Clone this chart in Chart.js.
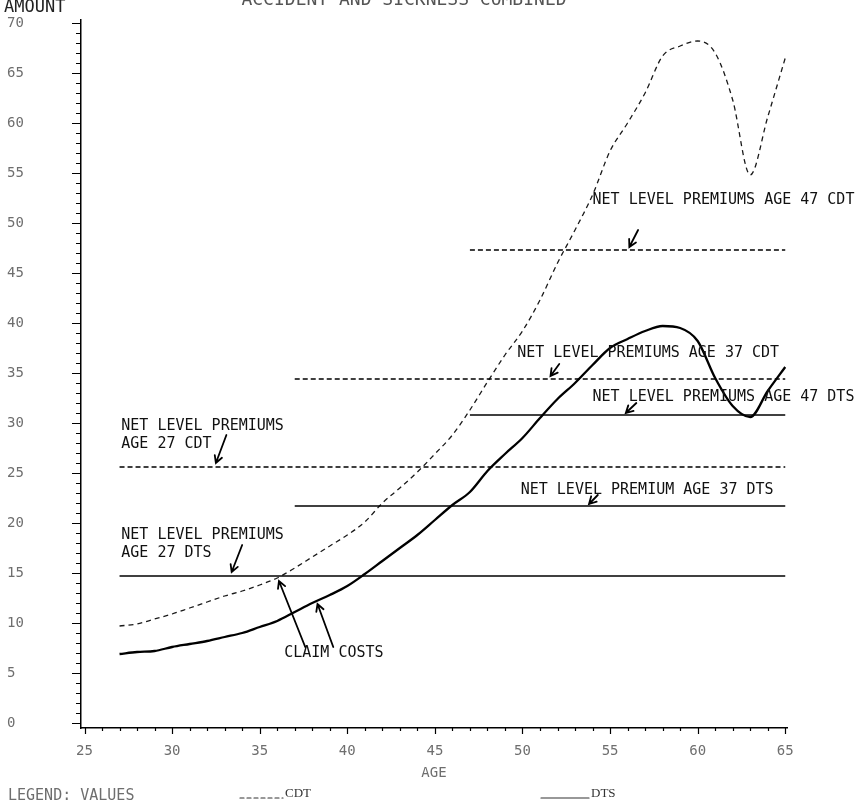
<!DOCTYPE html>
<html>
<head>
<meta charset="utf-8">
<title>Claim costs and net level premiums</title>
<script src="https://cdn.jsdelivr.net/npm/chart.js@4.4.1/dist/chart.umd.min.js"></script>
<style>
  html, body { margin: 0; padding: 0; background: #fff; }
  canvas { display: block; }
</style>
</head>
<body>
<canvas id="premiumChart" width="860" height="809"></canvas>
<script>
// claim costs by age
const ages = [27, 28, 29, 30, 31, 32, 33, 34, 35, 36, 37, 38, 39, 40, 41, 42, 43, 44, 45, 46,
              47, 48, 49, 50, 51, 52, 53, 54, 55, 56, 57, 58, 59, 60, 61, 62, 63, 64, 65];
const cdtClaimCost = [9.7, 9.9, 10.4, 10.9, 11.5, 12.1, 12.7, 13.2, 13.8, 14.5, 15.5, 16.6, 17.7, 18.8, 20.1, 22.0, 23.5, 25.1, 26.9, 28.8,
                      31.3, 34.1, 36.8, 39.2, 42.3, 46.0, 49.3, 52.8, 57.2, 60.0, 63.0, 66.7, 67.7, 68.2, 67.0, 62.3, 54.8, 60.6, 66.5];
const dtsClaimCost = [6.9, 7.1, 7.2, 7.6, 7.9, 8.2, 8.6, 9.0, 9.6, 10.2, 11.1, 12.0, 12.8, 13.7, 14.9, 16.2, 17.5, 18.8, 20.3, 21.8,
                      23.1, 25.2, 26.9, 28.5, 30.5, 32.4, 34.0, 35.8, 37.5, 38.4, 39.2, 39.7, 39.5, 38.2, 34.5, 31.7, 30.6, 33.2, 35.6];

// net level premiums, paid from issue age to 65
const premiumIssueAge = [27, 37, 47, 27, 37, 47];
const premiumBasis = ["CDT", "CDT", "CDT", "DTS", "DTS", "DTS"];
const premiumValue = [25.6, 34.4, 47.3, 14.7, 21.7, 30.8];
const premiumEndAge = 65;

// axis ticks
const xTickValues = [];
for (let a = 25; a <= 65; a++) xTickValues.push(a);
const yTickValues = [];
for (let v = 0; v <= 70; v++) yTickValues.push(v);

const titleText = "ACCIDENT AND SICKNESS COMBINED";

// hand lettered notes: text anchor and arrow (tail -> head) in age / amount units
const notes = [
    { lines: ["NET LEVEL PREMIUMS AGE 47 CDT"], at: [54.0, 52.3], arrows: [[[56.6, 49.3], [56.1, 47.6]]] },
    { lines: ["NET LEVEL PREMIUMS AGE 37 CDT"], at: [49.7, 37.0], arrows: [[[52.1, 35.9], [51.6, 34.7]]] },
    { lines: ["NET LEVEL PREMIUMS AGE 47 DTS"], at: [54.0, 32.6], arrows: [[[56.5, 32.0], [55.9, 31.0]]] },
    { lines: ["NET LEVEL PREMIUM AGE 37 DTS"], at: [49.9, 23.3], arrows: [[[54.3, 22.8], [53.8, 21.9]]] },
    { lines: ["NET LEVEL PREMIUMS", "AGE 27 CDT"], at: [27.1, 29.7], arrows: [[[33.1, 28.8], [32.5, 26.0]]] },
    { lines: ["NET LEVEL PREMIUMS", "AGE 27 DTS"], at: [27.1, 18.8], arrows: [[[34.0, 17.8], [33.4, 15.1]]] },
    { lines: ["CLAIM COSTS"], at: [36.4, 7.0], arrows: [[[37.6, 7.6], [36.1, 14.2]], [[39.2, 7.6], [38.3, 11.9]]] }
];

const noteFont = "15px 'DejaVu Sans Mono', monospace";
const tickFont = { family: "'DejaVu Sans Mono', monospace", size: 14 };
const tickColor = "#6e6e6e";

const premiumSets = premiumValue.map((v, i) => ({
    label: "Net level premium age " + premiumIssueAge[i] + " " + premiumBasis[i],
    data: [{ x: premiumIssueAge[i], y: v }, { x: premiumEndAge, y: v }],
    borderColor: "#000",
    borderWidth: 1.5,
    borderDash: premiumBasis[i] === "CDT" ? [5, 3] : [],
    pointRadius: 0,
    fill: false,
}));

const curveSets = [
    {
        label: "CDT",
        data: ages.map((a, i) => ({ x: a, y: cdtClaimCost[i] })),
        borderColor: "#1a1a1a",
        borderWidth: 1.3,
        borderDash: [5, 4],
        cubicInterpolationMode: "monotone",
        pointRadius: 0,
        fill: false,
    },
    {
        label: "DTS",
        data: ages.map((a, i) => ({ x: a, y: dtsClaimCost[i] })),
        borderColor: "#000",
        borderWidth: 2.3,
        cubicInterpolationMode: "monotone",
        pointRadius: 0,
        fill: false,
    },
];

function drawArrow(ctx, x1, y1, x2, y2) {
    const ang = Math.atan2(y2 - y1, x2 - x1);
    const len = 8;
    ctx.beginPath();
    ctx.moveTo(x1, y1);
    ctx.lineTo(x2, y2);
    ctx.moveTo(x2 - len * Math.cos(ang - 0.5), y2 - len * Math.sin(ang - 0.5));
    ctx.lineTo(x2, y2);
    ctx.lineTo(x2 - len * Math.cos(ang + 0.5), y2 - len * Math.sin(ang + 0.5));
    ctx.stroke();
}

// tick marks, notes, title and legend
const decorations = {
    id: "decorations",
    afterDraw(chart) {
        const ctx = chart.ctx;
        const xs = chart.scales.x;
        const ys = chart.scales.y;
        const area = chart.chartArea;

        ctx.save();
        ctx.strokeStyle = "#000";
        ctx.lineWidth = 1.2;
        ctx.beginPath();
        yTickValues.forEach(v => {
            const py = Math.round(ys.getPixelForValue(v)) + 0.5;
            const len = v % 5 === 0 ? 9 : 5;
            ctx.moveTo(area.left, py);
            ctx.lineTo(area.left - len, py);
        });
        xTickValues.forEach(a => {
            const px = Math.round(xs.getPixelForValue(a)) + 0.5;
            const len = a % 5 === 0 ? 6 : 3;
            ctx.moveTo(px, area.bottom);
            ctx.lineTo(px, area.bottom + len);
        });
        ctx.stroke();

        // notes
        ctx.fillStyle = "#111";
        ctx.font = noteFont;
        ctx.textBaseline = "middle";
        ctx.textAlign = "left";
        ctx.lineWidth = 1.8;
        ctx.lineCap = "round";
        notes.forEach(n => {
            const px = xs.getPixelForValue(n.at[0]);
            const py = ys.getPixelForValue(n.at[1]);
            n.lines.forEach((t, k) => ctx.fillText(t, px, py + k * 18));
            n.arrows.forEach(ar => {
                drawArrow(ctx,
                    xs.getPixelForValue(ar[0][0]), ys.getPixelForValue(ar[0][1]),
                    xs.getPixelForValue(ar[1][0]), ys.getPixelForValue(ar[1][1]));
            });
        });

        // title, mostly off the top edge
        ctx.fillStyle = "#555";
        ctx.font = "18px 'DejaVu Sans Mono', monospace";
        ctx.textAlign = "center";
        ctx.textBaseline = "alphabetic";
        ctx.fillText(titleText, 404, 5);

        ctx.textAlign = "left";
        ctx.textBaseline = "middle";
        ctx.fillStyle = "#222";
        ctx.font = "17px 'DejaVu Sans Mono', monospace";
        ctx.fillText("AMOUNT", 4, 8);

        ctx.fillStyle = tickColor;
        ctx.font = "14px 'DejaVu Sans Mono', monospace";
        ctx.textAlign = "center";
        ctx.fillText("AGE", (area.left + area.right) / 2, 773);

        // legend
        const ly = 796;
        ctx.textAlign = "left";
        ctx.font = "15px 'DejaVu Sans Mono', monospace";
        ctx.fillText("LEGEND: VALUES", 8, ly);
        ctx.font = "13px 'Liberation Serif', serif";
        ctx.fillStyle = "#333";
        ctx.fillText("CDT", 285, ly - 2);
        ctx.fillText("DTS", 591, ly - 2);
        ctx.strokeStyle = "#333";
        ctx.lineWidth = 1.2;
        ctx.setLineDash([4, 3]);
        ctx.beginPath();
        ctx.moveTo(240, ly + 2);
        ctx.lineTo(283, ly + 2);
        ctx.stroke();
        ctx.setLineDash([]);
        ctx.beginPath();
        ctx.moveTo(541, ly + 2);
        ctx.lineTo(589, ly + 2);
        ctx.stroke();
        ctx.restore();
    }
};

const config = {
    type: "line",
    data: { datasets: premiumSets.concat(curveSets) },
    options: {
        responsive: false,
        animation: false,
        parsing: false,
        layout: { padding: { left: 7, top: 20, right: 73, bottom: 0 } },
        plugins: {
            legend: { display: false },
            tooltip: { enabled: false },
        },
        scales: {
            x: {
                type: "linear",
                min: 24.8,
                max: 65.1,
                afterBuildTicks: axis => { axis.ticks = xTickValues.map(v => ({ value: v })); },
                afterFit: scale => { scale.height = 81; },
                grid: { drawOnChartArea: false, drawTicks: false },
                border: { display: true, color: "#000", width: 1.5 },
                ticks: {
                    autoSkip: false,
                    maxRotation: 0,
                    padding: 15,
                    color: tickColor,
                    font: tickFont,
                    callback: v => (v % 5 === 0 ? String(v) : ""),
                },
            },
            y: {
                type: "linear",
                min: -0.5,
                max: 70.3,
                afterBuildTicks: axis => { axis.ticks = yTickValues.map(v => ({ value: v })); },
                afterFit: scale => { scale.width = 74; },
                grid: { drawOnChartArea: false, drawTicks: false },
                border: { display: true, color: "#000", width: 1.5 },
                ticks: {
                    autoSkip: false,
                    crossAlign: "far",
                    color: tickColor,
                    font: tickFont,
                    callback: v => (v % 5 === 0 ? String(v) : ""),
                },
            },
        },
    },
    plugins: [decorations],
};

const premiumChart = new Chart(document.getElementById("premiumChart"), config);
</script>
</body>
</html>
